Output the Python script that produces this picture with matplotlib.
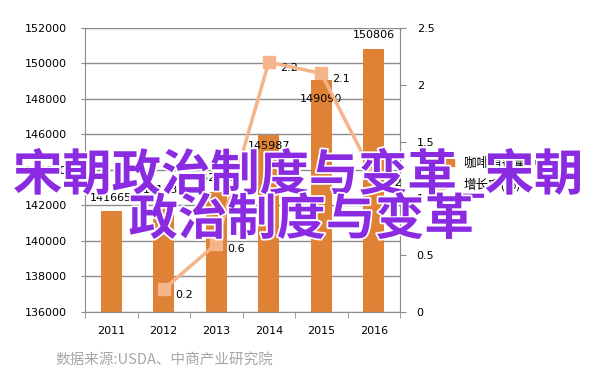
import matplotlib
matplotlib.use("Agg")
import matplotlib.pyplot as plt
import matplotlib.patheffects as pe
from matplotlib.patches import Patch
from matplotlib.lines import Line2D

plt.rcParams['font.family'] = ['DejaVu Sans', 'Noto Sans CJK SC']

# data
years = ['2011', '2012', '2013', '2014', '2015', '2016']
consumption = [141665, 141932, 142755, 145987, 149090, 150806]  # 千包
growth_years = ['2012', '2013', '2014', '2015', '2016']
growth = [0.2, 0.6, 2.2, 2.1, 1.2]  # %

# label offsets (points) for the bar value labels, as placed in the original
bar_label_dy = [10, 12, 10, -8, -14, 10]

bar_color = '#df8236'
line_color = '#f5b48a'
grid_color = '#8c8c8c'

fig = plt.figure(figsize=(6.02, 3.84), dpi=100)
ax = fig.add_axes([85 / 602, 1 - 312 / 384, 315 / 602, 284 / 384])

x = list(range(len(years)))
ax.bar(x, consumption, width=0.4, color=bar_color, zorder=2)
ax.set_ylim(136000, 152000)
ax.set_xlim(-0.5, len(years) - 0.5)
ax.set_yticks(range(136000, 152001, 2000))
ax.set_xticks(x)
ax.set_xticklabels(years)
ax.yaxis.grid(True, color=grid_color, lw=1, zorder=0)
ax.tick_params(axis='y', length=3, color=grid_color, labelsize=8, pad=10)
ax.tick_params(axis='x', length=0, labelsize=8, pad=10)
# category separator ticks on the bottom axis
ax.set_xticks([i - 0.5 for i in range(len(years) + 1)], minor=True)
ax.tick_params(axis='x', which='minor', length=4, color=grid_color)
ax.spines['top'].set_visible(False)
for s in ['left', 'right', 'bottom']:
    ax.spines[s].set_color(grid_color)

for xi, v, dy in zip(x, consumption, bar_label_dy):
    ax.annotate(str(v), (xi, v), xytext=(0, dy), textcoords='offset points',
                ha='center', va='center', fontsize=8, zorder=5)

ax2 = ax.twinx()
gx = [years.index(y) for y in growth_years]
ax2.plot(gx, growth, color=line_color, lw=2.5, marker='s', markersize=8, zorder=4)
ax2.set_ylim(0, 2.5)
ax2.set_yticks([0, 0.5, 1, 1.5, 2, 2.5])
ax2.set_yticklabels(['0', '0.5', '1', '1.5', '2', '2.5'])
ax2.tick_params(axis='y', length=4, color=grid_color, labelsize=8, pad=8)
for s in ['top', 'left', 'bottom']:
    ax2.spines[s].set_visible(False)
ax2.spines['right'].set_color(grid_color)
for xi, v in zip(gx, growth):
    ax2.annotate(str(v), (xi, v), xytext=(8, -4 if v != 1.2 else -5),
                 textcoords='offset points', ha='left', va='center', fontsize=8)

handles = [Patch(color=bar_color),
           Line2D([0], [0], color=line_color, lw=2.5, marker='s', markersize=7)]
fig.legend(handles, ['咖啡消费量（千包）', '增长率(%)'], loc='center left',
           bbox_to_anchor=(415 / 602, 1 - 174 / 384), frameon=False,
           prop={'family': 'Noto Sans CJK SC', 'size': 9},
           handlelength=2.2, handleheight=0.4, labelspacing=0.6)

fig.text(55 / 602, 1 - 360 / 384, '数据来源:USDA、中商产业研究院', color='#a6a6a6',
         fontsize=10.5, family='Noto Sans CJK SC', va='center', ha='left')

wm = dict(color='#8a2be2', fontsize=35.5, family='Noto Sans CJK SC', weight='bold',
          ha='center', va='center', zorder=20,
          path_effects=[pe.withStroke(linewidth=2.5, foreground='white')])
fig.text(0.495, 1 - 175 / 384, '宋朝政治制度与变革_宋朝', **wm)
fig.text(0.5, 1 - 220 / 384, '政治制度与变革', **wm)

fig.savefig('out.png', dpi=100)
